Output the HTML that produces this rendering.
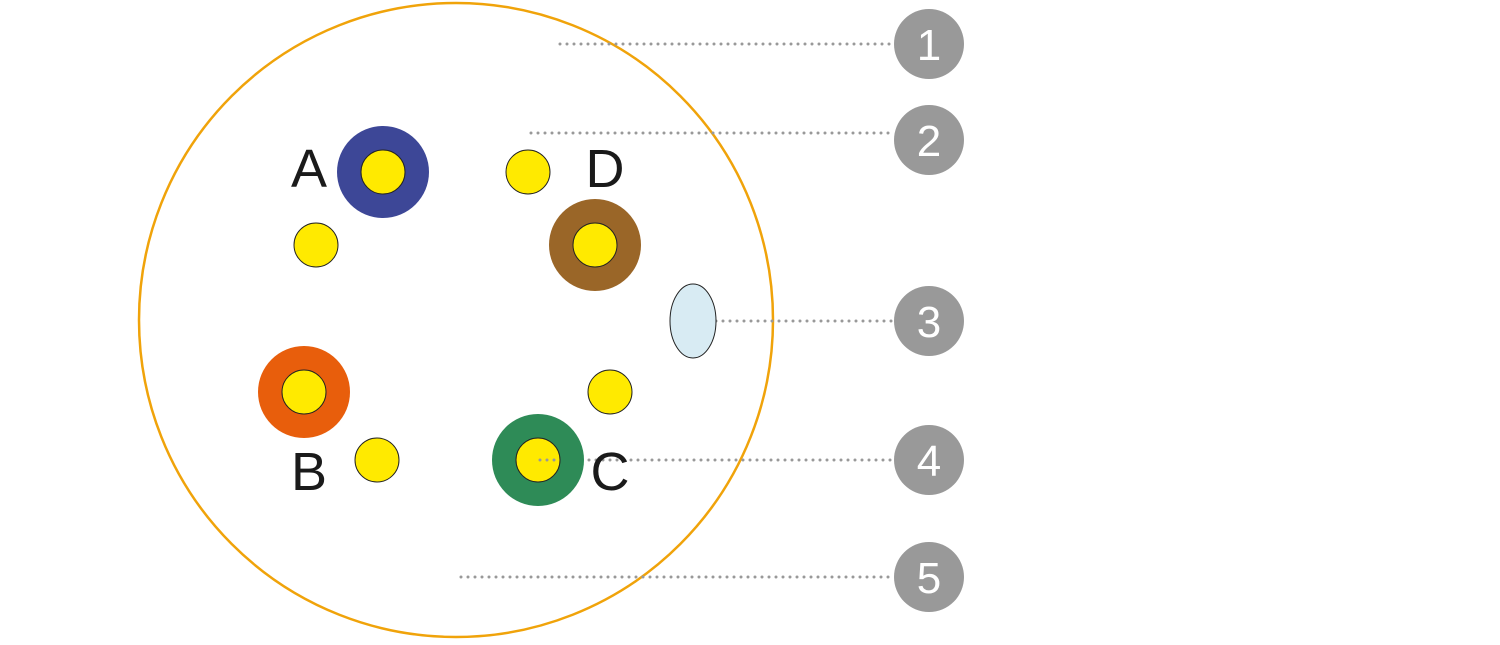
<!DOCTYPE html>
<html><head><meta charset="utf-8"><style>body{margin:0;background:#fff}</style></head>
<body>
<svg width="1500" height="640" viewBox="0 0 1500 640" xmlns="http://www.w3.org/2000/svg">
<circle cx="456" cy="320" r="317" fill="#fff" stroke="#F0A30A" stroke-width="2.5"/>
<g stroke="#999" stroke-width="3" stroke-linecap="round" stroke-dasharray="0 7">
<line x1="560" y1="44" x2="895" y2="44"/>
<line x1="531" y1="133" x2="895" y2="133"/>
<line x1="709" y1="321" x2="895" y2="321"/>
<line x1="540" y1="460" x2="895" y2="460"/>
<line x1="461" y1="577" x2="895" y2="577"/>
</g>
<g stroke="#222" stroke-width="1">
<circle cx="383" cy="172" r="46" fill="#3D4797" stroke="none"/>
<circle cx="595" cy="245" r="46" fill="#9A6628" stroke="none"/>
<circle cx="304" cy="392" r="46" fill="#E85E0C" stroke="none"/>
<circle cx="538" cy="460" r="46" fill="#2E8B57" stroke="none"/>
<circle cx="383" cy="172" r="22" fill="#FFEA00"/>
<circle cx="595" cy="245" r="22" fill="#FFEA00"/>
<circle cx="304" cy="392" r="22" fill="#FFEA00"/>
<circle cx="538" cy="460" r="22" fill="#FFEA00"/>
<circle cx="316" cy="245" r="22" fill="#FFEA00"/>
<circle cx="528" cy="172" r="22" fill="#FFEA00"/>
<circle cx="610" cy="392" r="22" fill="#FFEA00"/>
<circle cx="377" cy="460" r="22" fill="#FFEA00"/>
<ellipse cx="693" cy="321" rx="23" ry="37" fill="#D8EBF3"/>
</g>
<line x1="540" y1="460" x2="560" y2="460" stroke="#999" stroke-width="3" stroke-linecap="round" stroke-dasharray="0 7"/>
<g font-family="Liberation Sans, sans-serif" font-size="54" fill="#1a1a1a" text-anchor="middle">
<text x="309" y="187">A</text>
<text x="605" y="187">D</text>
<text x="309" y="490">B</text>
<text x="610" y="490">C</text>
</g>
<g fill="#999">
<circle cx="929" cy="44" r="35"/>
<circle cx="929" cy="140" r="35"/>
<circle cx="929" cy="321" r="35"/>
<circle cx="929" cy="460" r="35"/>
<circle cx="929" cy="577" r="35"/>
</g>
<g font-family="Liberation Sans, sans-serif" font-size="44" fill="#fff" text-anchor="middle">
<text x="929" y="60">1</text>
<text x="929" y="156">2</text>
<text x="929" y="337">3</text>
<text x="929" y="476">4</text>
<text x="929" y="593">5</text>
</g>
</svg>
</body></html>
